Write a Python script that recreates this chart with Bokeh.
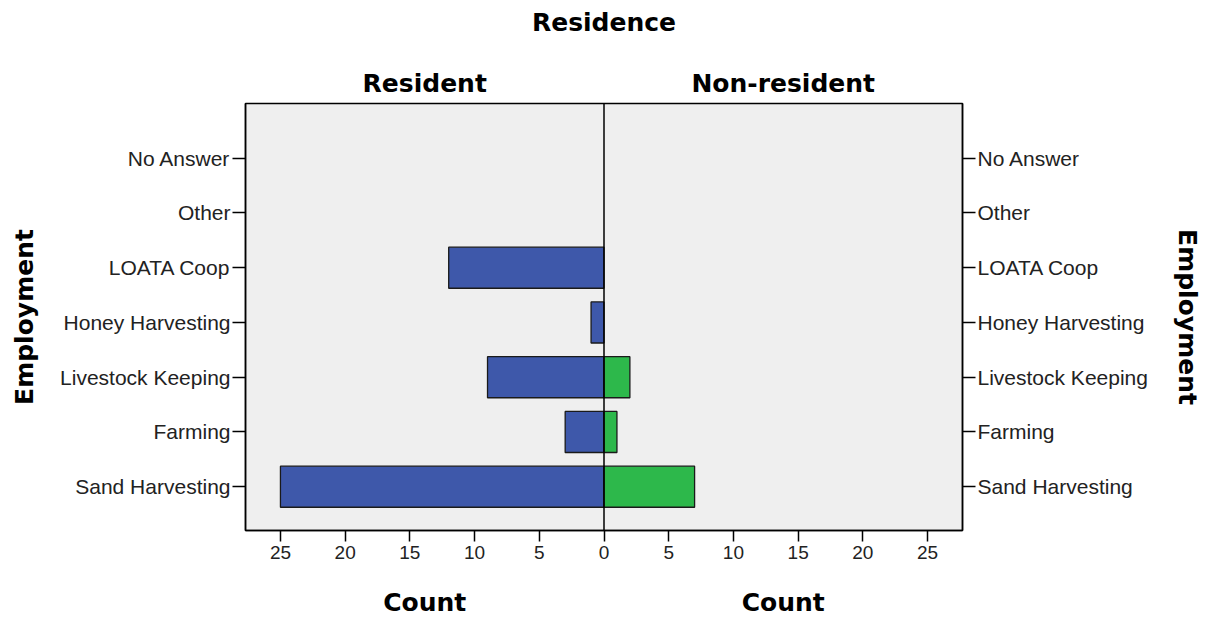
from bokeh.plotting import figure
from bokeh.models import (Range1d, FixedTicker, Span, ColumnDataSource,
                          LinearAxis, CustomJSTickFormatter)
from bokeh.embed import file_html
from bokeh.resources import INLINE

# ---- data ----
categories = ["Sand Harvesting", "Farming", "Livestock Keeping", "Honey Harvesting",
              "LOATA Coop", "Other", "No Answer"]
resident = [25, 3, 9, 1, 12, 0, 0]
non_resident = [7, 1, 2, 0, 0, 0, 0]
x_ticks = [-25, -20, -15, -10, -5, 0, 5, 10, 15, 20, 25]
title = "Residence"
panel_titles = ["Resident", "Non-resident"]
x_label = "Count"
y_label = "Employment"

BLUE = "#3E58AA"
GREEN = "#2DB84B"
BG = "#EFEFEF"
TICK_FONT = "Liberation Sans"
BOLD_FONT = "DejaVu Sans"
BOLD_SIZE = "25px"

X0, X1 = -27.7, 27.7
Y0, Y1 = -0.8, 7.0
half_centers = [X0 / 2, X1 / 2]

p = figure(width=1210, height=619, output_backend="svg", toolbar_location=None,
           x_range=Range1d(X0, X1), y_range=Range1d(Y0, Y1),
           min_border_left=245, min_border_right=248, min_border_top=103,
           min_border_bottom=89)
p.title.text = ""
p.title.visible = False
p.background_fill_color = BG
p.border_fill_color = "white"
p.outline_line_color = "black"
p.outline_line_width = 1.5
p.xgrid.visible = False
p.ygrid.visible = False

ys = list(range(len(categories)))
res_src = ColumnDataSource(dict(
    y=[y for y, v in zip(ys, resident) if v > 0],
    left=[-v for v in resident if v > 0]))
non_src = ColumnDataSource(dict(
    y=[y for y, v in zip(ys, non_resident) if v > 0],
    right=[v for v in non_resident if v > 0]))

p.hbar(y="y", left="left", right=0, height=0.75, source=res_src,
       fill_color=BLUE, line_color="#1a1a1a", line_width=1.3)
p.hbar(y="y", left=0, right="right", height=0.75, source=non_src,
       fill_color=GREEN, line_color="#1a1a1a", line_width=1.3)

p.add_layout(Span(location=0, dimension="height", line_color="black", line_width=1.5))

# main x axis
xa = p.xaxis[0]
xa.ticker = FixedTicker(ticks=x_ticks)
xa.formatter = CustomJSTickFormatter(code="return Math.abs(tick).toString();")
xa.minor_tick_line_color = None

# y axes
ylabels = {i: c for i, c in enumerate(categories)}
ya = p.yaxis[0]
ya.ticker = FixedTicker(ticks=ys)
ya.major_label_overrides = ylabels
ya.minor_tick_line_color = None
ra = LinearAxis(ticker=FixedTicker(ticks=ys), major_label_overrides=ylabels)
ra.minor_tick_line_color = None
p.add_layout(ra, "right")

for ax in [xa, ya, ra]:
    ax.axis_line_color = "black"
    ax.axis_line_width = 1.5
    ax.major_tick_line_color = "black"
    ax.major_tick_line_width = 1.5
    ax.major_tick_in = 0
    ax.major_label_text_color = "#222222"
    ax.major_label_text_font = TICK_FONT
xa.major_tick_out = 11
xa.major_label_text_font_size = "19px"
xa.major_label_standoff = 4
for ax in [ya, ra]:
    ax.major_tick_out = 13
    ax.major_label_standoff = 2
    ax.major_label_text_font_size = "21px"
    ax.axis_label = y_label
    ax.axis_label_text_font = BOLD_FONT
    ax.axis_label_text_font_style = "bold"
    ax.axis_label_text_font_size = BOLD_SIZE
    ax.axis_label_text_color = "black"
ya.axis_label_standoff = 18
ra.axis_label_standoff = 22


def text_axis(ticks, labels, standoff):
    ax = LinearAxis(ticker=FixedTicker(ticks=ticks),
                    major_label_overrides={t: l for t, l in zip(ticks, labels)})
    ax.axis_line_color = None
    ax.major_tick_line_color = None
    ax.minor_tick_line_color = None
    ax.major_tick_in = 0
    ax.major_tick_out = 0
    ax.major_label_standoff = standoff
    ax.major_label_text_font = BOLD_FONT
    ax.major_label_text_font_style = "bold"
    ax.major_label_text_font_size = BOLD_SIZE
    ax.major_label_text_color = "black"
    return ax


p.add_layout(text_axis(half_centers, panel_titles, 6), "above")
p.add_layout(text_axis([0], [title], 29), "above")
p.add_layout(text_axis(half_centers, [x_label, x_label], 26), "below")

open("out.html", "w").write(file_html(p, INLINE))
